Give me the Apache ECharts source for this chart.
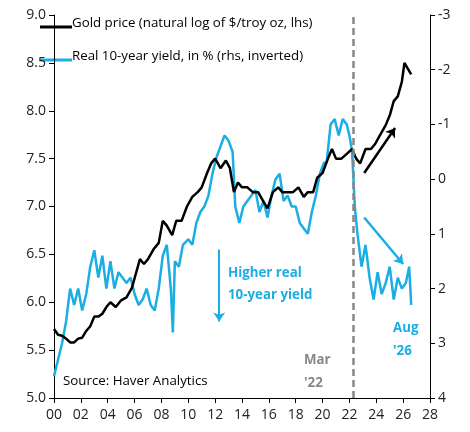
<!DOCTYPE html><html><head><meta charset="utf-8">
<script src="https://cdn.jsdelivr.net/npm/echarts@6/dist/echarts.min.js"></script>
<style>body{margin:0}#c{width:470px;height:432px}</style></head><body><div id="c"></div>
<script>
const goldDates=[2000,2000.3,2000.6,2000.9,2001.2,2001.5,2001.8,2002.1,2002.4,2002.7,2003,2003.3,2003.6,2003.9,2004.2,2004.6,2005,2005.4,2005.8,2006.1,2006.4,2006.7,2007,2007.4,2007.8,2008.1,2008.4,2008.8,2009.1,2009.5,2009.9,2010.3,2010.7,2011,2011.4,2011.7,2012,2012.4,2012.8,2013.1,2013.4,2013.7,2014,2014.4,2014.8,2015.2,2015.6,2015.9,2016.3,2016.7,2017,2017.4,2017.8,2018.2,2018.6,2018.9,2019.3,2019.6,2020,2020.4,2020.7,2021,2021.4,2021.8,2022.2,2022.5,2022.8,2023.2,2023.6,2023.9,2024.3,2024.7,2025,2025.3,2025.6,2025.9,2026.1,2026.3,2026.6];
const goldVals=[5.72,5.66,5.65,5.62,5.58,5.58,5.62,5.63,5.7,5.75,5.85,5.85,5.88,5.95,6.0,5.95,6.02,6.05,6.15,6.3,6.45,6.4,6.45,6.55,6.62,6.85,6.8,6.7,6.85,6.85,7.0,7.1,7.15,7.2,7.35,7.45,7.5,7.4,7.48,7.4,7.15,7.25,7.2,7.2,7.15,7.15,7.05,6.98,7.15,7.2,7.15,7.15,7.15,7.2,7.1,7.15,7.15,7.3,7.35,7.5,7.6,7.5,7.5,7.55,7.6,7.5,7.45,7.6,7.6,7.65,7.75,7.85,7.95,8.1,8.15,8.3,8.5,8.45,8.38];
const yieldDates=[2000,2000.3,2000.6,2000.9,2001.2,2001.5,2001.8,2002.1,2002.4,2002.7,2003,2003.3,2003.6,2003.9,2004.2,2004.5,2004.8,2005.1,2005.4,2005.7,2006,2006.3,2006.6,2006.9,2007.2,2007.5,2007.8,2008.1,2008.4,2008.7,2008.85,2009.0,2009.3,2009.6,2010,2010.3,2010.6,2010.9,2011.2,2011.5,2011.8,2012.1,2012.4,2012.7,2013,2013.3,2013.5,2013.8,2014.1,2014.4,2014.7,2015,2015.3,2015.6,2015.9,2016.2,2016.5,2016.8,2017.1,2017.4,2017.7,2018,2018.3,2018.6,2018.9,2019.2,2019.5,2019.8,2020.1,2020.3,2020.6,2020.9,2021.2,2021.5,2021.8,2022.0,2022.2,2022.4,2022.6,2022.9,2023.2,2023.5,2023.8,2024.1,2024.4,2024.7,2025,2025.3,2025.6,2025.9,2026.2,2026.45,2026.6];
const yieldVals=[3.6,3.3,3.0,2.6,2.0,2.3,2.0,2.4,2.1,1.6,1.3,1.8,1.4,2.0,1.5,2.0,1.7,1.8,1.9,1.8,2.1,2.3,2.2,2.0,2.3,2.4,2.0,1.4,1.2,2.0,2.8,1.5,1.6,1.2,1.1,1.2,0.8,0.6,0.5,0.3,-0.1,-0.4,-0.6,-0.8,-0.7,-0.5,0.5,0.8,0.5,0.4,0.3,0.2,0.6,0.4,0.7,0.3,0.0,-0.1,0.4,0.3,0.5,0.5,0.8,0.9,1.0,0.6,0.3,-0.1,-0.3,-0.3,-1.0,-1.1,-0.8,-1.1,-1.0,-0.8,-0.5,0.5,1.0,1.6,1.2,1.8,2.2,1.7,2.1,1.9,1.6,2.2,1.8,2.0,1.9,1.6,2.3];
const xTicks=[2000,2028,2];
const c=echarts.init(document.getElementById('c'));
const F='"Open Sans", sans-serif';
const lbl={fontSize:14,color:'#222',fontFamily:'"Open Sans", sans-serif'};
c.setOption({
 animation:false,
 grid:{left:54,right:40,top:15,bottom:34},
 xAxis:{type:'value',min:xTicks[0],max:xTicks[1],interval:xTicks[2],splitLine:{show:false},
  axisLine:{onZero:false,lineStyle:{color:'#000'}},axisTick:{inside:true,length:-5,lineStyle:{color:'#000'}},
  axisLabel:Object.assign({formatter:v=>String(v%100).padStart(2,'0'),margin:10},lbl)},
 yAxis:[{type:'value',min:5,max:9,interval:0.5,splitLine:{show:false},axisLine:{show:true,lineStyle:{color:'#000'}},
   axisTick:{show:true,length:5,lineStyle:{color:'#000'}},axisLabel:Object.assign({formatter:v=>v.toFixed(1)},lbl)},
  {type:'value',min:-3,max:4,interval:1,inverse:true,splitLine:{show:false},axisLine:{show:true,lineStyle:{color:'#000'}},
   axisTick:{show:true,length:5,lineStyle:{color:'#000'}},axisLabel:lbl}],
 series:[
  {type:'line',yAxisIndex:1,data:yieldDates.map((d,i)=>[d,yieldVals[i]]),showSymbol:false,lineStyle:{color:'#1aaee5',width:2.5},
   markLine:{silent:true,symbol:['none','arrow'],symbolSize:9,label:{show:false},lineStyle:{color:'#1aaee5',width:2.5,type:'solid'},
    data:[[{coord:[2023.1,0.7]},{coord:[2026,1.55]}]]}},
  {type:'line',data:goldDates.map((d,i)=>[d,goldVals[i]]),showSymbol:false,lineStyle:{color:'#000',width:2.5},
   markLine:{silent:true,symbol:['none','arrow'],symbolSize:9,label:{show:false},
    data:[
     [{coord:[2022.3,5.0],lineStyle:{color:'#888',width:2.5,type:[7,4]},symbol:'none'},{coord:[2022.3,9.0],symbol:'none'}],
     [{coord:[2023.1,7.35],lineStyle:{color:'#000',width:2.5,type:'solid'}},{coord:[2025.4,7.82]}],
     [{coord:[2012.3,6.55],lineStyle:{color:'#1aaee5',width:2,type:'solid'}},{coord:[2012.3,5.8]}]
    ]}}
 ],
 graphic:[
  {type:'line',shape:{x1:40,y1:27,x2:72,y2:27},style:{stroke:'#000',lineWidth:3}},
  {type:'text',left:72,top:17,style:{text:'Gold price (natural log of $/troy oz, lhs)',font:'13.3px '+F,fill:'#000'}},
  {type:'line',shape:{x1:40,y1:60,x2:72,y2:60},style:{stroke:'#1aaee5',lineWidth:3}},
  {type:'text',left:72,top:50,style:{text:'Real 10-year yield, in % (rhs, inverted)',font:'13.3px '+F,fill:'#000'}},
  {type:'text',left:228,top:262,style:{text:'Higher real\n10-year yield',font:'bold 13.3px '+F,fill:'#1aaee5',lineHeight:22}},
  {type:'text',left:304,top:349,style:{text:'Mar\n\'22',font:'bold 13.3px '+F,fill:'#888',lineHeight:23}},
  {type:'text',left:393,top:317,style:{text:'Aug\n\'26',font:'bold 13.3px '+F,fill:'#1aaee5',lineHeight:23}},
  {type:'text',left:63,top:375,style:{text:'Source: Haver Analytics',font:'13.3px '+F,fill:'#000'}}
 ]
});
</script></body></html>
